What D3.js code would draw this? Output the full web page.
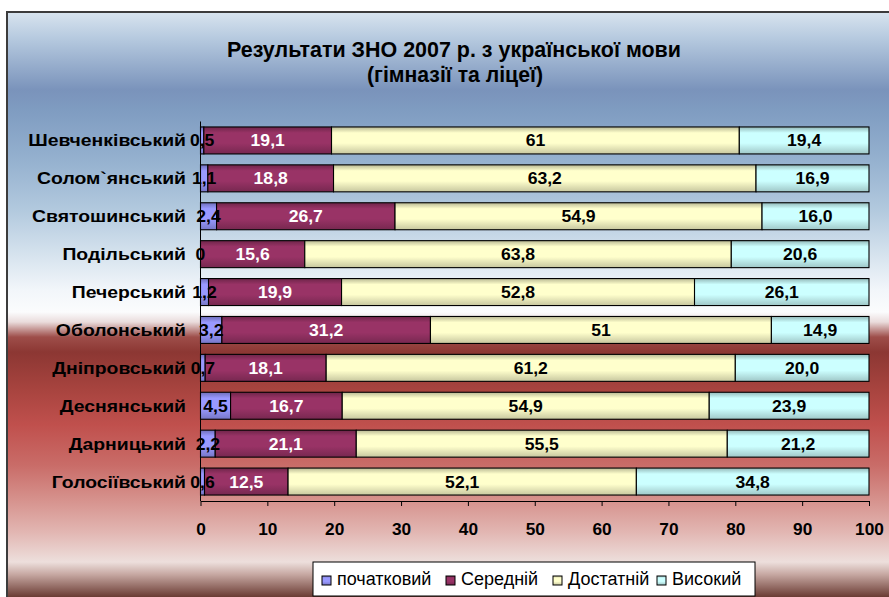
<!DOCTYPE html>
<html><head><meta charset="utf-8">
<script src="https://cdnjs.cloudflare.com/ajax/libs/d3/7.8.5/d3.min.js"></script>
<style>
html,body{margin:0;padding:0;background:#fff;}
svg{display:block;font-family:"Liberation Sans",Arial,sans-serif;}
</style></head>
<body>
<svg id="chart" width="889" height="597"></svg>
<script>
const titleLines = ["Результати ЗНО 2007 р. з української мови", "(гімназії та ліцеї)"];
const categories = ["Шевченківський","Солом`янський","Святошинський","Подільський","Печерський","Оболонський","Дніпровський","Деснянський","Дарницький","Голосіївський"];
const seriesNames = ["початковий","Середній","Достатній","Високий"];
const seriesColors = ["#9999ff","#993366","#ffffcc","#ccffff"];
const labelColors = ["#000","#fff","#000","#000"];
const pochatkovyi = [0.5,1.1,2.4,0,1.2,3.2,0.7,4.5,2.2,0.6];
const serednii    = [19.1,18.8,26.7,15.6,19.9,31.2,18.1,16.7,21.1,12.5];
const dostatnii   = [61,63.2,54.9,63.8,52.8,51,61.2,54.9,55.5,52.1];
const vysokyi     = [19.4,16.9,16.0,20.6,26.1,14.9,20.0,23.9,21.2,34.8];
const pochatkovyiLabels = ["0,5","1,1","2,4","0","1,2","3,2","0,7","4,5","2,2","0,6"];
const serednijLabels    = ["19,1","18,8","26,7","15,6","19,9","31,2","18,1","16,7","21,1","12,5"];
const dostatnijLabels   = ["61","63,2","54,9","63,8","52,8","51","61,2","54,9","55,5","52,1"];
const vysokyjLabels     = ["19,4","16,9","16,0","20,6","26,1","14,9","20,0","23,9","21,2","34,8"];
const xTicks = [0,10,20,30,40,50,60,70,80,90,100];

const seriesValues = [pochatkovyi, serednii, dostatnii, vysokyi];
const seriesLabels = [pochatkovyiLabels, serednijLabels, dostatnijLabels, vysokyjLabels];

const svg = d3.select("#chart");
const defs = svg.append("defs");

// background gradient
const bg = defs.append("linearGradient").attr("id","bgGrad")
  .attr("gradientUnits","userSpaceOnUse").attr("x1",0).attr("y1",12).attr("x2",0).attr("y2",597);
const bgStops = [
  [12,"#d8e4ef"],[40,"#b4c8de"],[90,"#7a93bb"],[110,"#7f9cc1"],[160,"#95b1cf"],
  [210,"#b2c9de"],[255,"#d6e3ee"],[290,"#f2f6fa"],[312,"#fbfcfd"],[322,"#eadcdc"],
  [337,"#9e4e4a"],[352,"#8c3733"],[390,"#a8443f"],[425,"#c0504d"],[465,"#c96c68"],
  [500,"#d6928d"],[532,"#e2b6b2"],[562,"#eddfdc"],[574,"#c8aaa4"],[597,"#6a3b33"]
];
bgStops.forEach(s => bg.append("stop").attr("offset",((s[0]-12)/(597-12)).toFixed(4)).attr("stop-color",s[1]));

function shade(c,k){const r=d3.rgb(c);return d3.rgb(r.r*k,r.g*k,r.b*k).formatHex();}
seriesColors.forEach((c,i)=>{
  const g = defs.append("linearGradient").attr("id","barGrad"+i).attr("x1",0).attr("y1",0).attr("x2",0).attr("y2",1);
  g.append("stop").attr("offset",0).attr("stop-color",shade(c,0.72));
  g.append("stop").attr("offset",0.22).attr("stop-color",c);
  g.append("stop").attr("offset",0.6).attr("stop-color",c);
  g.append("stop").attr("offset",1).attr("stop-color",shade(c,0.78));
});

// chart area
svg.append("rect").attr("x",7).attr("y",12).attr("width",900).attr("height",600)
  .attr("fill","url(#bgGrad)").attr("stroke","#3c3c3c").attr("stroke-width",2);

// title
svg.append("text").attr("x",454).attr("y",57).attr("text-anchor","middle")
  .attr("font-size",22).attr("font-weight","bold").attr("fill","#000")
  .attr("textLength",454).attr("lengthAdjust","spacingAndGlyphs").text(titleLines[0]);
svg.append("text").attr("x",455).attr("y",82).attr("text-anchor","middle")
  .attr("font-size",22).attr("font-weight","bold").attr("fill","#000")
  .attr("textLength",176).attr("lengthAdjust","spacingAndGlyphs").text(titleLines[1]);

const x = d3.scaleLinear().domain([0,100]).range([200.5,869]).clamp(true);
const y = d3.scaleBand().domain(categories).range([121.5,500.5]).paddingInner(0.288).paddingOuter(0.144);

// stacked data
const rows = categories.map((c,i)=>{
  let acc=0; return seriesValues.map((vals,s)=>{const v=vals[i];const seg={cat:c,s,x0:acc,x1:acc+v,label:seriesLabels[s][i]};acc+=v;return seg;});
});
const segs = rows.flat();

const gBars = svg.append("g");
gBars.selectAll("rect").data(segs).join("rect")
  .attr("x",d=>x(d.x0)).attr("y",d=>y(d.cat))
  .attr("width",d=>Math.max(0,x(d.x1)-x(d.x0))).attr("height",y.bandwidth())
  .attr("fill",d=>`url(#barGrad${d.s})`).attr("stroke","#000").attr("stroke-width",1.1);

// axes
const xAxis = svg.append("g").attr("transform","translate(0,501)")
  .call(d3.axisBottom(x).tickValues(xTicks).tickSize(5).tickSizeOuter(0).tickFormat(d=>d));
xAxis.select(".domain").attr("stroke","#000");
xAxis.selectAll(".tick line").attr("stroke","#000");
xAxis.selectAll(".tick text").attr("x",0).attr("y",0).attr("dy",0)
  .attr("transform","translate(0,34) scale(1.08,1)")
  .attr("font-size",16).attr("font-weight","bold")
  .attr("font-family","'Liberation Sans',Arial,sans-serif").attr("fill","#000");

svg.append("line").attr("x1",200.5).attr("x2",200.5).attr("y1",121.5).attr("y2",501).attr("stroke","#000");

// category labels
svg.append("g").selectAll("text").data(categories).join("text")
  .attr("transform",d=>`translate(186,${y(d)+y.bandwidth()/2+6}) scale(1.14,1)`)
  .attr("text-anchor","end").attr("font-size",17).attr("font-weight","bold").attr("fill","#000")
  .text(d=>d);

// data labels
svg.append("g").selectAll("text").data(segs).join("text")
  .attr("transform",d=>`translate(${(x(d.x0)+x(d.x1))/2},${y(d.cat)+y.bandwidth()/2+6}) scale(1.1,1)`)
  .attr("text-anchor","middle").attr("font-size",16).attr("font-weight","bold")
  .attr("fill",d=>labelColors[d.s]).text(d=>d.label);

// legend
const lg = svg.append("g");
lg.append("rect").attr("x",313).attr("y",562).attr("width",442).attr("height",34)
  .attr("fill","#fff").attr("stroke","#000").attr("stroke-width",1);
const swX = [322,446,553,657];
seriesNames.forEach((n,i)=>{
  lg.append("rect").attr("x",swX[i]).attr("y",576).attr("width",9).attr("height",9)
    .attr("fill",`url(#barGrad${i})`).attr("stroke","#000").attr("stroke-width",1);
  lg.append("text").attr("x",swX[i]+15).attr("y",585).attr("font-size",18).attr("fill","#000").text(n);
});
</script>
</body></html>
